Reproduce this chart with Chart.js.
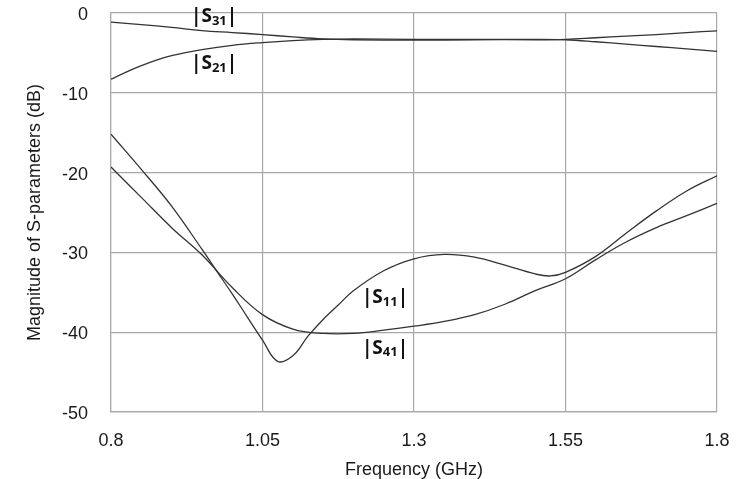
<!DOCTYPE html>
<html>
<head>
<meta charset="utf-8">
<script src="https://cdn.jsdelivr.net/npm/chart.js@4/dist/chart.umd.min.js"></script>
<style>
  html, body { margin: 0; padding: 0; background: #fff; }
  #wrap { width: 739px; height: 479px; }
</style>
</head>
<body>
<div id="wrap"><canvas id="sparamChart" width="739" height="479"></canvas></div>
<script>
// frequency (GHz) and magnitude (dB)
var freqS11 = [0.8, 0.85, 0.9, 0.95, 0.975, 1.0, 1.025, 1.05, 1.075, 1.1, 1.125, 1.15, 1.175, 1.2, 1.25, 1.3, 1.35, 1.4, 1.45, 1.5, 1.525, 1.55, 1.6, 1.65, 1.7, 1.75, 1.8];
var magS11 = [-15.2, -19.6, -24.2, -29.6, -32.4, -35.2, -38.1, -41.0, -43.65, -42.95, -40.5, -38.4, -36.6, -34.8, -32.3, -30.8, -30.25, -30.6, -31.6, -32.7, -32.95, -32.5, -30.5, -27.6, -24.8, -22.3, -20.4];

var freqS41 = [0.8, 0.85, 0.9, 0.95, 1.0, 1.05, 1.1, 1.15, 1.2, 1.25, 1.3, 1.35, 1.4, 1.45, 1.5, 1.55, 1.6, 1.65, 1.7, 1.75, 1.8];
var magS41 = [-19.3, -23.1, -26.9, -30.3, -34.4, -37.8, -39.6, -40.15, -40.15, -39.75, -39.25, -38.65, -37.8, -36.5, -34.8, -33.3, -30.9, -28.7, -26.9, -25.4, -23.85];

var freqS31 = [0.8, 0.85, 0.9, 0.95, 1.0, 1.05, 1.1, 1.15, 1.2, 1.3, 1.4, 1.5, 1.55, 1.6, 1.65, 1.7, 1.75, 1.8];
var magS31 = [-1.15, -1.45, -1.8, -2.2, -2.45, -2.7, -3.0, -3.25, -3.35, -3.4, -3.35, -3.3, -3.35, -3.6, -3.9, -4.2, -4.5, -4.8];

var freqS21 = [0.8, 0.825, 0.85, 0.875, 0.9, 0.95, 1.0, 1.05, 1.1, 1.15, 1.2, 1.3, 1.4, 1.5, 1.55, 1.6, 1.65, 1.7, 1.75, 1.8];
var magS21 = [-8.3, -7.4, -6.6, -5.9, -5.35, -4.6, -4.05, -3.7, -3.45, -3.3, -3.25, -3.3, -3.3, -3.35, -3.3, -3.1, -2.9, -2.7, -2.45, -2.25];

var xTicks = [0.8, 1.05, 1.3, 1.55, 1.8];
var xTickLabels = ['0.8', '1.05', '1.3', '1.55', '1.8'];

// curve labels: [subscript, frequency, dB]
var curveLabels = [
    ['31', 0.932, -0.5],
    ['21', 0.932, -6.4],
    ['11', 1.214, -35.7],
    ['41', 1.214, -42.0]
];

function toPoints(xs, ys) {
    return xs.map(function (x, i) { return {x: x, y: ys[i]}; });
}

function lineSet(label, xs, ys) {
    return {
        label: label,
        data: toPoints(xs, ys),
        borderColor: '#333333',
        borderWidth: 1.3,
        pointRadius: 0,
        fill: false,
        tension: 0.4
    };
}

var labelPlugin = {
    id: 'curveLabels',
    afterDatasetsDraw: function (chart) {
        var ctx = chart.ctx;
        var xs = chart.scales.x, ys = chart.scales.y;
        ctx.save();
        ctx.fillStyle = '#111';
        ctx.textBaseline = 'middle';
        ctx.textAlign = 'left';
        curveLabels.forEach(function (l) {
            var px = xs.getPixelForValue(l[1]);
            var py = ys.getPixelForValue(l[2]);
            ctx.font = 'bold 19px "Open Sans", "Liberation Sans", sans-serif';
            ctx.fillText('|S', px, py);
            var w = ctx.measureText('|S').width;
            ctx.font = 'bold 13px "Open Sans", "Liberation Sans", sans-serif';
            ctx.fillText(l[0], px + w, py + 4);
            var w2 = ctx.measureText(l[0]).width;
            ctx.font = 'bold 19px "Open Sans", "Liberation Sans", sans-serif';
            ctx.fillText('|', px + w + w2, py);
        });
        ctx.restore();
    }
};

var ctx = document.getElementById('sparamChart').getContext('2d');
var sparamChart = new Chart(ctx, {
    type: 'line',
    data: {
        datasets: [
            lineSet('|S31|', freqS31, magS31),
            lineSet('|S21|', freqS21, magS21),
            lineSet('|S11|', freqS11, magS11),
            lineSet('|S41|', freqS41, magS41)
        ]
    },
    options: {
        responsive: false,
        animation: false,
        layout: {
            padding: { left: 0, right: 22, top: 13, bottom: 0 }
        },
        scales: {
            x: {
                type: 'linear',
                min: 0.8,
                max: 1.8,
                afterBuildTicks: function (axis) {
                    axis.ticks = xTicks.map(function (v) { return {value: v}; });
                },
                afterFit: function (axis) {
                    axis.height = 67;
                    axis.paddingLeft = 0;
                    axis.paddingRight = 0;
                },
                grid: {
                    color: '#a8a8a8',
                    lineWidth: 1.2,
                    drawTicks: false
                },
                border: { color: '#a8a8a8', width: 1.2 },
                ticks: {
                    padding: 18,
                    color: '#1a1a1a',
                    font: { family: '"Liberation Sans", Arial, sans-serif', size: 18 },
                    maxRotation: 0,
                    callback: function (v) {
                        var i = xTicks.indexOf(v);
                        return i >= 0 ? xTickLabels[i] : '';
                    }
                },
                title: {
                    display: true,
                    text: 'Frequency (GHz)',
                    color: '#1a1a1a',
                    padding: { top: 0, bottom: 0 },
                    font: { family: '"Liberation Sans", Arial, sans-serif', size: 18, lineHeight: 1 }
                }
            },
            y: {
                min: -50,
                max: 0,
                afterFit: function (axis) {
                    axis.width = 111;
                    axis.paddingTop = 0;
                    axis.paddingBottom = 0;
                },
                grid: {
                    color: '#a8a8a8',
                    lineWidth: 1.2,
                    drawTicks: false
                },
                border: { color: '#a8a8a8', width: 1.2 },
                ticks: {
                    stepSize: 10,
                    padding: 23,
                    labelOffset: 2,
                    color: '#1a1a1a',
                    font: { family: '"Liberation Sans", Arial, sans-serif', size: 18 }
                },
                title: {
                    display: true,
                    text: 'Magnitude of S-parameters (dB)',
                    color: '#1a1a1a',
                    padding: { top: 26, bottom: 0 },
                    font: { family: '"Liberation Sans", Arial, sans-serif', size: 18, lineHeight: 1 }
                }
            }
        },
        plugins: {
            legend: { display: false },
            tooltip: { enabled: false }
        }
    },
    plugins: [labelPlugin]
});
</script>
</body>
</html>
